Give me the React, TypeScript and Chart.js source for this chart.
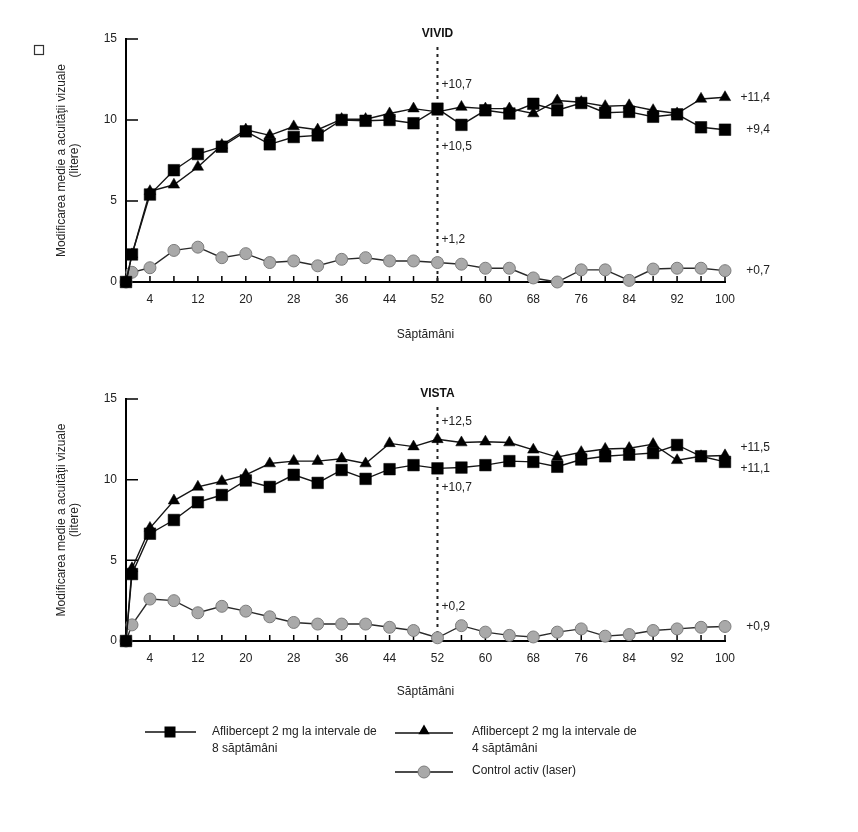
import React, { useEffect, useRef } from 'react';
import { Chart, registerables } from 'chart.js';

Chart.register(...registerables);

const FONT = "'Liberation Sans', Arial, Helvetica, sans-serif";

// ---------- data ----------
const weeks = [0, 1, 4, 8, 12, 16, 20, 24, 28, 32, 36, 40, 44, 48, 52, 56, 60, 64, 68, 72, 76, 80, 84, 88, 92, 96, 100];
const xTickValues = [4, 8, 12, 16, 20, 24, 28, 32, 36, 40, 44, 48, 52, 56, 60, 64, 68, 72, 76, 80, 84, 88, 92, 96, 100];
const xLabelValues = [4, 12, 20, 28, 36, 44, 52, 60, 68, 76, 84, 92, 100];
const yTickValues = [0, 5, 10, 15];
const markerWeek = 52;

const vividQ8 = [0, 1.7, 5.4, 6.9, 7.9, 8.35, 9.3, 8.5, 8.95, 9.05, 10.0, 9.95, 10.0, 9.8, 10.7, 9.7, 10.6, 10.4, 11.0, 10.6, 11.05, 10.45, 10.5, 10.2, 10.35, 9.55, 9.4];
const vividQ4 = [0, 1.7, 5.6, 6.0, 7.1, 8.45, 9.4, 9.05, 9.6, 9.4, 10.05, 10.05, 10.4, 10.7, 10.5, 10.8, 10.7, 10.7, 10.4, 11.2, 11.1, 10.85, 10.9, 10.6, 10.4, 11.3, 11.4];
const vividLaser = [0, 0.6, 0.88, 1.95, 2.15, 1.5, 1.75, 1.2, 1.3, 1.0, 1.4, 1.5, 1.3, 1.3, 1.2, 1.1, 0.85, 0.85, 0.25, 0.0, 0.75, 0.75, 0.1, 0.8, 0.85, 0.85, 0.7];

const vistaQ8 = [0, 4.15, 6.65, 7.5, 8.6, 9.05, 9.95, 9.55, 10.3, 9.8, 10.6, 10.05, 10.65, 10.9, 10.7, 10.75, 10.9, 11.15, 11.1, 10.8, 11.25, 11.45, 11.55, 11.65, 12.15, 11.45, 11.1];
const vistaQ4 = [0, 4.5, 7.0, 8.7, 9.55, 9.9, 10.3, 11.0, 11.15, 11.15, 11.3, 11.0, 12.25, 12.05, 12.5, 12.3, 12.35, 12.3, 11.85, 11.4, 11.7, 11.9, 11.95, 12.2, 11.2, 11.45, 11.5];
const vistaLaser = [0, 1.0, 2.6, 2.5, 1.75, 2.15, 1.85, 1.5, 1.15, 1.05, 1.05, 1.05, 0.85, 0.65, 0.2, 0.95, 0.55, 0.35, 0.25, 0.55, 0.75, 0.3, 0.4, 0.65, 0.75, 0.85, 0.9];

// value labels (text, y position in axis units)
const vividMidLabels = ['+10,7', '+10,5', '+1,2'];
const vividMidY = [12.15, 8.35, 2.6];
const vividEndLabels = ['+11,4', '+9,4', '+0,7'];
const vividEndY = [11.4, 9.4, 0.7];
const vistaMidLabels = ['+12,5', '+10,7', '+0,2'];
const vistaMidY = [13.6, 9.5, 2.1];
const vistaEndLabels = ['+11,5', '+11,1', '+0,9'];
const vistaEndY = [11.97, 10.66, 0.9];

const yTitle = ['Modificarea medie a acuităţii vizuale', '(litere)'];
const xTitle = 'Săptămâni';
const legendQ8 = ['Aflibercept 2 mg la intervale de', '8 săptămâni'];
const legendQ4 = ['Aflibercept 2 mg la intervale de', '4 săptămâni'];
const legendLaser = ['Control activ (laser)'];

const SQ_COLOR = '#000';
const CIRCLE_FILL = '#a9a9a9';
const CIRCLE_BORDER = '#7c7c7c';
const LINE_COLOR = '#151515';

function drawSquare(ctx: CanvasRenderingContext2D, x: number, y: number, s: number) {
  ctx.fillStyle = SQ_COLOR;
  ctx.fillRect(x - s / 2, y - s / 2, s, s);
}
function drawTriangle(ctx: CanvasRenderingContext2D, x: number, y: number, r: number) {
  ctx.fillStyle = '#000';
  ctx.beginPath();
  ctx.moveTo(x, y - r);
  ctx.lineTo(x + r * 0.866, y + r * 0.5);
  ctx.lineTo(x - r * 0.866, y + r * 0.5);
  ctx.closePath();
  ctx.fill();
}
function drawCircle(ctx: CanvasRenderingContext2D, x: number, y: number, r: number) {
  ctx.fillStyle = CIRCLE_FILL;
  ctx.strokeStyle = CIRCLE_BORDER;
  ctx.lineWidth = 1;
  ctx.beginPath();
  ctx.arc(x, y, r, 0, Math.PI * 2);
  ctx.fill();
  ctx.stroke();
}

const decorPlugin = {
  id: 'decor',
  beforeDatasetsDraw(chart: any, _args: any, opts: any) {
    const { ctx, chartArea, scales } = chart;
    const xs = scales.x;
    const ys = scales.y;
    ctx.save();
    ctx.strokeStyle = '#000';
    ctx.lineWidth = 1.5;
    ctx.beginPath();
    for (const w of xTickValues) {
      const px = xs.getPixelForValue(w);
      ctx.moveTo(px, chartArea.bottom);
      ctx.lineTo(px, chartArea.bottom - 6);
    }
    for (const v of yTickValues) {
      if (v === 0) continue;
      const py = ys.getPixelForValue(v);
      ctx.moveTo(chartArea.left, py);
      ctx.lineTo(chartArea.left + 12, py);
    }
    ctx.stroke();
    // dashed marker line
    const dx = xs.getPixelForValue(markerWeek);
    ctx.setLineDash([3, 4]);
    ctx.lineWidth = 2;
    ctx.strokeStyle = '#222';
    ctx.beginPath();
    ctx.moveTo(dx, chartArea.top + 8);
    ctx.lineTo(dx, chartArea.bottom);
    ctx.stroke();
    ctx.restore();
  },
  afterDraw(chart: any, _args: any, opts: any) {
    const { ctx, chartArea, scales } = chart;
    const xs = scales.x;
    const ys = scales.y;
    ctx.save();
    const dx = xs.getPixelForValue(markerWeek);
    // title
    ctx.fillStyle = '#111';
    ctx.font = `bold 12px ${FONT}`;
    ctx.textAlign = 'center';
    ctx.textBaseline = 'middle';
    ctx.fillText(opts.title, dx, chartArea.top - 5.5);
    // labels
    ctx.font = `12px ${FONT}`;
    ctx.fillStyle = '#222';
    ctx.textAlign = 'left';
    opts.midLabels.forEach((t: string, i: number) => {
      ctx.fillText(t, dx + 4, ys.getPixelForValue(opts.midY[i]));
    });
    ctx.textAlign = 'right';
    opts.endLabels.forEach((t: string, i: number) => {
      ctx.fillText(t, chartArea.right + 45, ys.getPixelForValue(opts.endY[i]));
    });
    if (opts.box) {
      ctx.strokeStyle = '#333';
      ctx.lineWidth = 1.2;
      ctx.strokeRect(34.5, 45.5, 9, 9);
    }
    if (opts.legend) {
      const oy = opts.legendTop;
      ctx.strokeStyle = '#111';
      ctx.lineWidth = 1.5;
      ctx.beginPath();
      ctx.moveTo(145, oy + 32); ctx.lineTo(196, oy + 32);
      ctx.moveTo(395, oy + 33); ctx.lineTo(453, oy + 33);
      ctx.moveTo(395, oy + 72); ctx.lineTo(453, oy + 72);
      ctx.stroke();
      drawSquare(ctx, 170, oy + 32, 11);
      drawTriangle(ctx, 424, oy + 31, 6.5);
      drawCircle(ctx, 424, oy + 72, 6);
      ctx.fillStyle = '#222';
      ctx.textAlign = 'left';
      ctx.font = `12px ${FONT}`;
      legendQ8.forEach((t, i) => ctx.fillText(t, 212, oy + 32 + i * 17));
      legendQ4.forEach((t, i) => ctx.fillText(t, 472, oy + 32 + i * 17));
      legendLaser.forEach((t, i) => ctx.fillText(t, 472, oy + 71 + i * 17));
    }
    ctx.restore();
  },
};

type Props = {
  title: string;
  q8: number[];
  q4: number[];
  laser: number[];
  midLabels: string[];
  midY: number[];
  endLabels: string[];
  endY: number[];
  height: number;
  padTop: number;
  padBottom: number;
  xAxisHeight: number;
  top: number;
  box?: boolean;
  legend?: boolean;
  legendTop?: number;
};

function Panel(p: Props) {
  const ref = useRef<HTMLCanvasElement | null>(null);
  useEffect(() => {
    if (!ref.current) return;
    const pts = (arr: number[]) => weeks.map((w, i) => ({ x: w, y: arr[i] }));
    const chart = new Chart(ref.current, {
      type: 'line',
      data: {
        datasets: [
          {
            label: legendQ8.join(' '),
            data: pts(p.q8),
            borderColor: LINE_COLOR,
            borderWidth: 1.4,
            pointStyle: 'rect',
            pointRadius: 8.2,
            pointBackgroundColor: '#000',
            pointBorderColor: '#000',
            pointBorderWidth: 0.5,
            tension: 0,
            clip: false,
          },
          {
            label: legendQ4.join(' '),
            data: pts(p.q4),
            borderColor: LINE_COLOR,
            borderWidth: 1.4,
            pointStyle: 'triangle',
            pointRadius: 6.6,
            pointBackgroundColor: '#000',
            pointBorderColor: '#000',
            pointBorderWidth: 0.5,
            tension: 0,
            clip: false,
          },
          {
            label: legendLaser[0],
            data: pts(p.laser),
            borderColor: '#2a2a2a',
            borderWidth: 1.4,
            pointStyle: 'circle',
            pointRadius: 6,
            pointBackgroundColor: CIRCLE_FILL,
            pointBorderColor: CIRCLE_BORDER,
            pointBorderWidth: 1,
            tension: 0,
            clip: false,
          },
        ] as any,
      },
      options: {
        responsive: false,
        animation: false,
        events: [],
        layout: { padding: { left: 0, right: 133, top: p.padTop, bottom: p.padBottom } },
        plugins: {
          legend: { display: false },
          tooltip: { enabled: false },
          decor: {
            title: p.title,
            midLabels: p.midLabels,
            midY: p.midY,
            endLabels: p.endLabels,
            endY: p.endY,
            box: !!p.box,
            legend: !!p.legend,
            legendTop: p.legendTop || 0,
          },
        } as any,
        scales: {
          x: {
            type: 'linear',
            min: 0,
            max: 100,
            afterBuildTicks: (s: any) => {
              s.ticks = xTickValues.map((v) => ({ value: v }));
            },
            afterFit: (s: any) => {
              s.height = p.xAxisHeight;
            },
            ticks: {
              autoSkip: false,
              maxRotation: 0,
              padding: 10,
              color: '#222',
              font: { family: FONT, size: 12 },
              callback: (v: any) => (xLabelValues.includes(Number(v)) ? String(v) : ''),
            },
            grid: { display: false, drawTicks: false },
            border: { display: true, color: '#000', width: 2 },
            title: {
              display: true,
              text: xTitle,
              color: '#222',
              font: { family: FONT, size: 12 },
              padding: { top: 0, bottom: 8 },
            },
          },
          y: {
            type: 'linear',
            min: 0,
            max: 15,
            afterBuildTicks: (s: any) => {
              s.ticks = yTickValues.map((v) => ({ value: v }));
            },
            afterFit: (s: any) => {
              s.width = 126;
            },
            ticks: {
              padding: 9,
              color: '#222',
              font: { family: FONT, size: 12 },
            },
            grid: { display: false, drawTicks: false },
            border: { display: true, color: '#000', width: 2 },
            title: {
              display: true,
              text: yTitle,
              color: '#222',
              font: { family: FONT, size: 12, lineHeight: 1.1 },
              padding: { top: 55, bottom: 0 },
            },
          },
        } as any,
      },
      plugins: [decorPlugin as any],
    });
    return () => chart.destroy();
  }, []);
  return (
    <canvas
      ref={ref}
      width={858}
      height={p.height}
      style={{ position: 'absolute', left: 0, top: p.top, width: 858, height: p.height, display: 'block' }}
    />
  );
}

export default function App() {
  return (
    <div style={{ position: 'absolute', left: 0, top: 0, width: 858, height: 832, background: '#fff', overflow: 'hidden' }}>
      <Panel
        title="VIVID"
        q8={vividQ8}
        q4={vividQ4}
        laser={vividLaser}
        midLabels={vividMidLabels}
        midY={vividMidY}
        endLabels={vividEndLabels}
        endY={vividEndY}
        height={350}
        top={0}
        padTop={39}
        padBottom={0}
        xAxisHeight={68}
        box
      />
      <Panel
        title="VISTA"
        q8={vistaQ8}
        q4={vistaQ4}
        laser={vistaLaser}
        midLabels={vistaMidLabels}
        midY={vistaMidY}
        endLabels={vistaEndLabels}
        endY={vistaEndY}
        height={482}
        top={350}
        padTop={49}
        padBottom={125}
        xAxisHeight={66}
        legend
        legendTop={350}
      />
    </div>
  );
}
